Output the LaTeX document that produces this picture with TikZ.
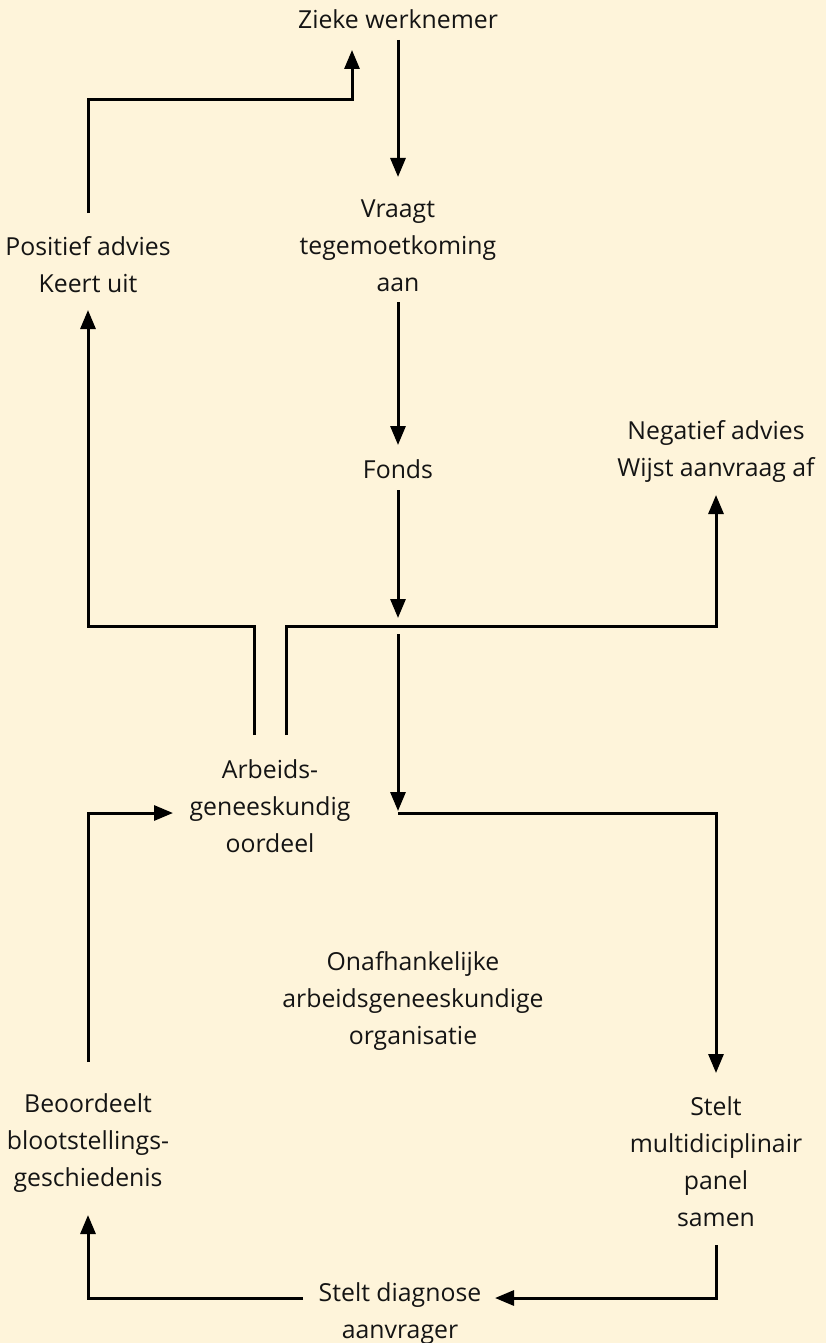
\documentclass[tikz,border=0pt]{standalone}
\usepackage{fontspec}
\setmainfont{Open Sans}
\usetikzlibrary{arrows.meta,calc}
\definecolor{bgcream}{RGB}{254,244,218}
\tikzset{
  txt/.style={font=\fontsize{24.8}{37}\selectfont, align=center, inner sep=0pt, text=black!92},
  conn/.style={line width=3pt, draw=black},
  arr/.style={conn, -{Triangle[length=19pt,width=15pt]}},
}
\begin{document}
\begin{tikzpicture}[x=1pt,y=-1pt]
\fill[bgcream] (0,0) rectangle (826,1343);
\useasboundingbox (0,0) rectangle (826,1343);
% nodes
\node[txt] (zieke) at (398,19) {Zieke werknemer};
\node[txt] (vraagt) at (398,246) {Vraagt\\tegemoetkoming\\aan};
\node[txt] (fonds) at (398,469) {Fonds};
\node[txt] (neg) at (716,451) {Negatief advies\\Wijst aanvraag af};
\node[txt] (pos) at (88,265) {Positief advies\\Keert uit};
\node[txt] (arb) at (270,806) {Arbeids-\\geneeskundig\\oordeel};
\node[txt] (onaf) at (413,1001) {Onafhankelijke\\arbeidsgeneeskundige\\organisatie};
\node[txt] (beoor) at (88,1143) {Beoordeelt\\blootstellings-\\geschiedenis};
\node[txt] (stelt) at (716,1162) {Stelt\\multidiciplinair\\panel\\samen};
\node[txt] (diag) at (400,1314) {Stelt diagnose\\aanvrager};
% junctions
\coordinate (j1) at (398,626);
\coordinate (j2) at (398,813);
% connectors
\draw[arr] (zieke |- 0,40) -- (vraagt |- 0,177);
\draw[arr] (vraagt |- 0,302) -- (fonds |- 0,445);
\draw[arr] (fonds |- 0,490) -- ($(j1)+(0,-8)$);
\draw[arr] ($(j1)+(0,8)$) -- ($(j2)+(0,-2)$);
\draw[arr] (j2) -| (stelt |- 0,1073);
\draw[arr] ($(arb)+(16,-71)$) |- (j1) -| (neg |- 0,495);
\draw[arr] ($(arb)+(-16,-71)$) |- (pos |- j1) -- (pos |- 0,310);
\draw[arr] (pos |- 0,213) |- ($(zieke)+(-46,81)$) -- ($(zieke)+(-46,31)$);
\draw[arr] (beoor |- 0,1062) |- ($(arb)+(-97,7)$);
\draw[arr] (stelt |- 0,1245) |- ($(diag)+(95,-16)$);
\draw[arr] ($(diag)+(-97,-16)$) -| (beoor |- 0,1215);
\end{tikzpicture}
\end{document}
